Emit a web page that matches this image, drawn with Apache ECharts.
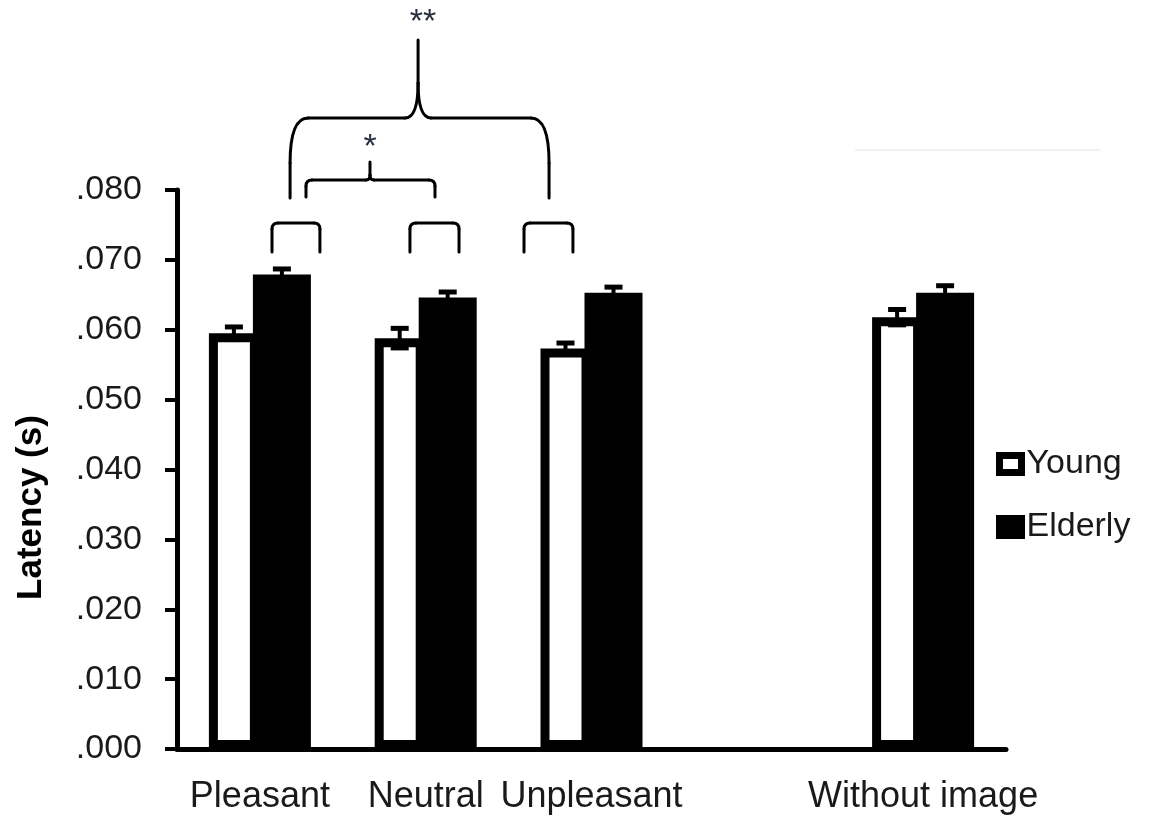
<!DOCTYPE html>
<html>
<head>
<meta charset="utf-8">
<script src="https://cdn.jsdelivr.net/npm/echarts@6/dist/echarts.min.js"></script>
<style>
  html, body { margin: 0; padding: 0; background: #fff; }
  #chart { width: 1155px; height: 819px; }
</style>
</head>
<body>
<div id="chart"></div>
<script>
// ---------- data ----------
const categories = ['Pleasant', 'Neutral', 'Unpleasant', '', 'Without image'];
const seriesNames = ['Young', 'Elderly'];
const youngMeans = [0.0595, 0.0588, 0.0573, null, 0.0618];
const youngErrors = [0.0009, 0.0014, 0.0008, null, 0.0011];
const elderlyMeans = [0.0679, 0.0646, 0.0653, null, 0.0653];
const elderlyErrors = [0.0008, 0.0008, 0.0008, null, 0.0010];
const yMin = 0;
const yMax = 0.08;
const yStep = 0.01;
const axisTitle = 'Latency (s)';
const starSingle = '*';
const starDouble = '**';

// ---------- styling / layout constants ----------
const FONT = "'Liberation Sans', Arial, sans-serif";
const TEXT_COLOR = '#1a1a1a';
const YOUNG_W = 50, ELDER_W = 58, BAR_GAP = -0.12;
const YOUNG_BORDER = 9;
const CAP_W = 18, CAP_T = 5, STEM_W = 4;

// bar centre offsets, derived from ECharts' own bar layout rule
const widthSum = YOUNG_W * (1 + BAR_GAP) + ELDER_W;
const youngOffset = -widthSum / 2 + YOUNG_W / 2;
const elderOffset = -widthSum / 2 + YOUNG_W * (1 + BAR_GAP) + ELDER_W / 2;

function toBarData(arr) { return arr.map(v => (v == null ? '-' : v)); }
function toErrData(means, errs) {
  const out = [];
  means.forEach((m, i) => { if (m != null) out.push([i, m, errs[i]]); });
  return out;
}
function makeErrorRender(offsetPx) {
  return function (params, api) {
    const idx = api.value(0), v = api.value(1), e = api.value(2);
    const base = api.coord([idx, v]);
    const hi = api.coord([idx, v + e]);
    const lo = api.coord([idx, v - e]);
    const x = base[0] + offsetPx;
    const h = CAP_W / 2;
    return {
      type: 'group',
      children: [
        { type: 'line', shape: { x1: x, y1: hi[1], x2: x, y2: lo[1] }, style: { stroke: '#000', lineWidth: STEM_W } },
        { type: 'line', shape: { x1: x - h, y1: hi[1], x2: x + h, y2: hi[1] }, style: { stroke: '#000', lineWidth: CAP_T } },
        { type: 'line', shape: { x1: x - h, y1: lo[1], x2: x + h, y2: lo[1] }, style: { stroke: '#000', lineWidth: CAP_T } }
      ]
    };
  };
}

const chart = echarts.init(document.getElementById('chart'), null, { renderer: 'canvas' });

chart.setOption({
  animation: false,
  backgroundColor: '#fff',
  textStyle: { fontFamily: FONT },
  grid: { left: 177, right: 149, top: 190, bottom: 70, containLabel: false, outerBoundsMode: 'none' },
  legend: {
    orient: 'vertical',
    left: 996,
    top: 447,
    padding: 0,
    itemGap: 29,
    itemWidth: 22,
    itemHeight: 17,
    icon: 'rect',
    selectedMode: false,
    textStyle: { fontSize: 34, color: TEXT_COLOR, fontFamily: FONT },
    data: [
      { name: seriesNames[0], itemStyle: { color: '#fff', borderColor: '#000', borderWidth: 7 } },
      { name: seriesNames[1], itemStyle: { color: '#000', borderColor: '#000', borderWidth: 7 } }
    ]
  },
  xAxis: [
    {
      type: 'category',
      data: categories,
      axisLine: { show: true, lineStyle: { color: '#000', width: 5 } },
      axisTick: { show: false },
      splitLine: { show: false },
      axisLabel: { interval: 0, fontSize: 36, color: TEXT_COLOR, margin: 30, fontFamily: FONT }
    },
    {
      type: 'value', min: 0, max: categories.length, show: false,
      axisLine: { show: false }, axisTick: { show: false }, axisLabel: { show: false }, splitLine: { show: false }
    }
  ],
  yAxis: {
    type: 'value',
    min: yMin, max: yMax, interval: yStep,
    name: axisTitle,
    nameLocation: 'middle',
    nameRotate: 90,
    nameGap: 128,
    nameTextStyle: { fontSize: 35, fontWeight: 'bold', color: '#000', fontFamily: FONT, padding: [0, 76, 0, 0] },
    axisLine: { show: true, lineStyle: { color: '#000', width: 5 } },
    axisTick: { show: true, length: 12, lineStyle: { color: '#000', width: 4 } },
    splitLine: { show: false },
    axisLabel: {
      fontSize: 34, color: TEXT_COLOR, margin: 35, fontFamily: FONT,
      formatter: v => v.toFixed(3).replace(/^0/, '')
    }
  },
  series: [
    {
      name: seriesNames[0], type: 'bar', data: toBarData(youngMeans),
      barWidth: YOUNG_W, barGap: (BAR_GAP * 100) + '%',
      itemStyle: { color: '#fff', borderColor: '#000', borderWidth: YOUNG_BORDER },
      emphasis: { disabled: true }, silent: true
    },
    {
      name: seriesNames[1], type: 'bar', data: toBarData(elderlyMeans),
      barWidth: ELDER_W, barGap: (BAR_GAP * 100) + '%',
      itemStyle: { color: '#000' },
      emphasis: { disabled: true }, silent: true
    },
    {
      name: seriesNames[0] + ' SE', type: 'custom', data: toErrData(youngMeans, youngErrors),
      encode: { x: 0, y: 1 }, renderItem: makeErrorRender(youngOffset), silent: true, z: 5
    },
    {
      name: seriesNames[1] + ' SE', type: 'custom', data: toErrData(elderlyMeans, elderlyErrors),
      encode: { x: 0, y: 1 }, renderItem: makeErrorRender(elderOffset), silent: true, z: 5
    }
  ]
});

// ---------- significance annotations (positioned via axis scales) ----------
// x in category units (0..5 across the plot), y in data units
const smallBrackets = [
  { x1: 0.573, x2: 0.862, yTop: 0.07528, yBottom: 0.07113 },
  { x1: 1.405, x2: 1.701, yTop: 0.07528, yBottom: 0.07113 },
  { x1: 2.093, x2: 2.388, yTop: 0.07528, yBottom: 0.07113 }
];
const braces = [
  { xl: 0.778, xt: 1.164, xr: 1.556, yb: 0.07900, ym: 0.08143, yt: 0.08401, crx: 6, cry: 6, trx: 4, tryy: 5, label: starSingle, lx: 1.164, ly: 0.08701 },
  { xl: 0.682, xt: 1.454, xr: 2.244, yb: 0.07885, ym: 0.09030, yt: 0.10147, crx: 18, cry: 45, trx: 13, tryy: 35, label: starDouble, lx: 1.484, ly: 0.10497 }
];
const faintRule = { x1: 4.089, x2: 5.567, y: 0.08572 };

function P(u, v) { return chart.convertToPixel({ xAxisIndex: 1, yAxisIndex: 0 }, [u, v]); }

const graphics = [];
const LINE_STYLE = { stroke: '#000', lineWidth: 3, lineCap: 'round', fill: null };
function addLine(a, b) {
  graphics.push({ type: 'line', silent: true, shape: { x1: a[0], y1: a[1], x2: b[0], y2: b[1] }, style: LINE_STYLE });
}
function addQuad(a, c, b) {
  graphics.push({ type: 'bezierCurve', silent: true, shape: { x1: a[0], y1: a[1], cpx1: c[0], cpy1: c[1], x2: b[0], y2: b[1] }, style: LINE_STYLE });
}

smallBrackets.forEach(b => {
  const a = P(b.x1, b.yBottom), t1 = P(b.x1, b.yTop), t2 = P(b.x2, b.yTop), f = P(b.x2, b.yBottom);
  const r = 6;
  addLine(a, [t1[0], t1[1] + r]);
  addQuad([t1[0], t1[1] + r], t1, [t1[0] + r, t1[1]]);
  addLine([t1[0] + r, t1[1]], [t2[0] - r, t2[1]]);
  addQuad([t2[0] - r, t2[1]], t2, [t2[0], t2[1] + r]);
  addLine([t2[0], t2[1] + r], f);
});

braces.forEach(b => {
  const lb = P(b.xl, b.yb), lm = P(b.xl, b.ym), tm = P(b.xt, b.ym), tt = P(b.xt, b.yt), rm = P(b.xr, b.ym), rb = P(b.xr, b.yb);
  const y = lm[1];
  addLine(lb, [lb[0], y + b.cry]);
  addQuad([lb[0], y + b.cry], [lm[0], y], [lm[0] + b.crx, y]);
  addLine([lm[0] + b.crx, y], [tm[0] - b.trx, y]);
  addQuad([tm[0] - b.trx, y], [tm[0], y], [tm[0], y - b.tryy]);
  addLine([tm[0], y - b.tryy], tt);
  addQuad([tm[0], y - b.tryy], [tm[0], y], [tm[0] + b.trx, y]);
  addLine([tm[0] + b.trx, y], [rm[0] - b.crx, y]);
  addQuad([rm[0] - b.crx, y], [rm[0], y], [rm[0], y + b.cry]);
  addLine([rb[0], y + b.cry], rb);
  const lp = P(b.lx, b.ly);
  graphics.push({
    type: 'text', x: lp[0], y: lp[1] + 34 * 0.2, silent: true,
    style: { text: b.label, fontSize: 34, fontFamily: FONT, fill: '#2a3040', align: 'center', verticalAlign: 'middle' }
  });
});
{
  const a = P(faintRule.x1, faintRule.y), c = P(faintRule.x2, faintRule.y);
  graphics.push({ type: 'line', shape: { x1: a[0], y1: a[1], x2: c[0], y2: c[1] }, style: { stroke: '#f1f1f1', lineWidth: 2 }, silent: true });
}
chart.setOption({ graphic: graphics });
</script>
</body>
</html>
